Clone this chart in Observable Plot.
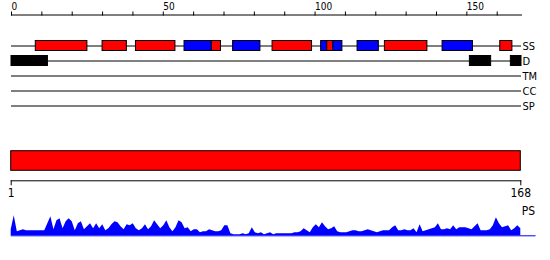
<!DOCTYPE html>
<html><head><meta charset="utf-8">
<script src="https://cdn.jsdelivr.net/npm/d3@7"></script>
<script src="https://cdn.jsdelivr.net/npm/@observablehq/plot@0.6"></script>
<style>
body{margin:0;background:#fff}
#chart svg{display:block;overflow:visible}
</style></head><body><div id="chart"></div>
<script>
const seqLength = 168;
const tracks = ["SS", "D", "TM", "CC", "SP"];
// secondary structure elements (H = helix, E = strand)
const ssStart = [8, 30, 41, 57, 66, 73, 86, 102, 104, 106, 114, 123, 142, 161];
const ssEnd   = [25, 38, 54, 66, 69, 82, 99, 104, 106, 109, 121, 137, 152, 165];
const ssType  = ["H", "H", "H", "E", "H", "E", "H", "E", "H", "E", "E", "H", "E", "H"];
// disordered regions
const disStart = [0, 151, 164.5];
const disEnd   = [12, 158, 168];
// domain
const domainStart = [1];
const domainEnd = [168];
// ticks
const topTicks = d3.range(0, 161, 10);
const topTickLabels = [0, 50, 100, 150];
const bottomTicks = [1, 168];
// PS profile, residues 1..168
const psValues = [
  6,20,4,5,6,5,5,5,5,5,
  5,5,12,19,6,15,17,7,14,17,
  14,5,12,14,6,9,12,7,12,7,
  11,5,7,11,14,13,9,6,11,10,
  12,7,5,7,11,6,9,15,11,7,
  10,15,8,4,8,15,13,7,8,4,
  6,6,3,4,4,6,5,4,4,5,
  10,10,2,1,1,1,2,1,2,8,
  3,2,3,1,2,3,1,2,2,2,
  2,2,2,3,3,4,7,5,3,8,
  11,8,13,9,6,7,9,4,3,3,
  3,4,5,5,4,4,5,6,5,4,
  3,4,5,5,5,8,10,5,5,6,
  5,5,7,3,11,4,5,6,7,8,
  12,6,6,7,6,10,6,8,8,8,
  7,6,9,12,5,5,5,6,10,18,
  12,8,9,10,5,7,10,7
];
const psBaselineEnd = 173;

const ss = ssStart.map((s, i) => ({start: s, end: ssEnd[i], type: ssType[i]}));
const dis = disStart.map((s, i) => ({start: s, end: disEnd[i]}));
const domains = domainStart.map((s, i) => ({start: s, end: domainEnd[i]}));

const fontStyle = {fontFamily: "'DejaVu Sans Condensed', 'DejaVu Sans', sans-serif", fontStretch: "condensed", background: "white", overflow: "visible", color: "black"};

const p1 = Plot.plot({
  width: 550, height: 120,
  marginLeft: 11, marginRight: 29, marginTop: 14.5, marginBottom: 0,
  style: {...fontStyle, fontSize: "10px"},
  x: {domain: [0, seqLength], axis: null},
  y: {type: "band", domain: tracks, range: [37.5, 112.5], padding: 0, axis: null},
  color: {type: "ordinal", domain: ["H", "E"], range: ["#ff0000", "#0000ff"]},
  marks: [
    Plot.frame({anchor: "top", stroke: "black"}),
    Plot.axisX(topTicks, {anchor: "top", tickSize: 4, tickPadding: 1, textAnchor: "start", fontSize: 10,
      tickFormat: d => topTickLabels.includes(d) ? String(d) : ""}),
    Plot.ruleY(tracks, {y: d => d, x1: () => 0, x2: () => seqLength, stroke: "black"}),
    Plot.barX(ss, {x1: "start", x2: "end", y: () => "SS", fill: "type", stroke: "black", insetTop: 2.5, insetBottom: 2.5}),
    Plot.barX(dis, {x1: "start", x2: "end", y: () => "D", fill: "black", stroke: "black", insetTop: 2.5, insetBottom: 2.5}),
    Plot.text(tracks, {y: d => d, x: () => seqLength, text: d => d, textAnchor: "start", dx: 1, fontSize: 11})
  ]
});

const p2 = Plot.plot({
  width: 550, height: 80,
  marginLeft: 10.7, marginRight: 29.7, marginTop: 30.7, marginBottom: 19.7,
  style: {...fontStyle, fontSize: "12px"},
  x: {domain: [1, seqLength], axis: null},
  marks: [
    Plot.barX(domains, {x1: "start", x2: "end", fill: "#ff0000", stroke: "black", insetBottom: 10}),
    Plot.frame({anchor: "bottom", stroke: "black"}),
    Plot.axisX(bottomTicks, {anchor: "bottom", tickSize: 5, tickPadding: 3, fontSize: 12, tickFormat: d => String(d)})
  ]
});

const p3 = Plot.plot({
  width: 550, height: 60,
  marginLeft: 10.7, marginRight: 29.7, marginTop: 14.3, marginBottom: 24.7,
  style: {...fontStyle, fontSize: "12px"},
  x: {domain: [1, seqLength], axis: null},
  y: {domain: [0, 21], axis: null},
  marks: [
    Plot.ruleY([0], {x1: () => 1, x2: () => psBaselineEnd, stroke: "#0000ff", clip: false}),
    Plot.areaY(psValues, {x: (d, i) => i + 1, y: d => d, fill: "#0000ff", curve: "linear"}),
    Plot.text(["PS"], {x: () => seqLength, frameAnchor: "top", text: d => d, textAnchor: "start", lineAnchor: "bottom", dx: 1, fontSize: 12})
  ]
});

const chart = document.getElementById("chart");
chart.append(p1, p2, p3);
</script>
</body></html>
